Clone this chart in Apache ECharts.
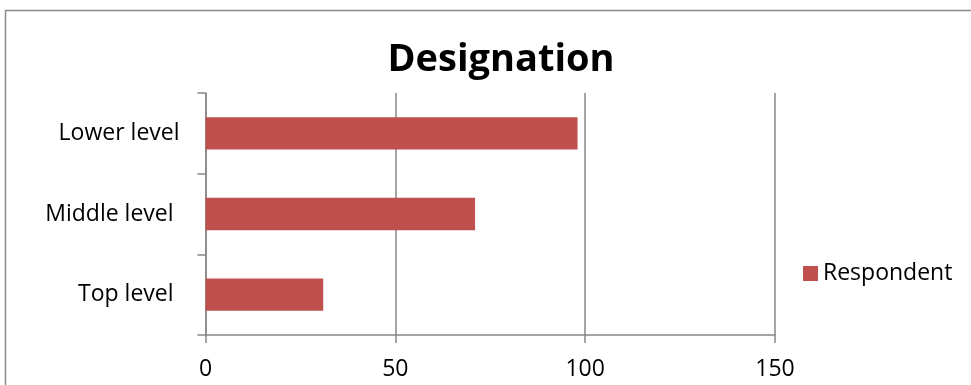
<!DOCTYPE html>
<html>
<head>
<meta charset="utf-8">
<script src="https://cdn.jsdelivr.net/npm/echarts@6/dist/echarts.min.js"></script>
<style>
  html, body { margin: 0; padding: 0; background: #fff; }
  #chart { width: 971px; height: 385px; }
</style>
</head>
<body>
<div id="chart"></div>
<script>
// Designation breakdown of respondents
const categories = ['Top level ', 'Middle level ', 'Lower level'];
const respondentValues = [31, 71, 98];
const valueTicks = [0, 50, 100, 150];
const seriesName = 'Respondent';

const chart = echarts.init(document.getElementById('chart'));
const font = 'Open Sans, Liberation Sans, sans-serif';
const gridColor = '#878787';

chart.setOption({
  animation: false,
  backgroundColor: '#fff',
  title: {
    text: 'Designation',
    left: 496,
    textAlign: 'center',
    top: 36,
    textStyle: { fontFamily: font, fontWeight: 'bold', fontSize: 38, color: '#000' }
  },
  legend: {
    data: [seriesName],
    left: 803,
    top: 262,
    padding: 0,
    itemWidth: 15,
    itemHeight: 15,
    itemGap: 8,
    icon: 'rect',
    textStyle: { fontFamily: font, fontSize: 23, color: '#000' }
  },
  grid: { left: 205.5, right: 971 - 775, top: 93, bottom: 385 - 335, containLabel: false },
  xAxis: {
    type: 'value',
    min: valueTicks[0],
    max: valueTicks[valueTicks.length - 1],
    interval: valueTicks[1] - valueTicks[0],
    axisLine: { show: true, lineStyle: { color: gridColor, width: 1.5 } },
    axisTick: { show: true, length: 8, lineStyle: { color: gridColor, width: 1.5 } },
    axisLabel: { fontFamily: font, fontSize: 23, color: '#000', margin: 23 },
    splitLine: { show: true, lineStyle: { color: gridColor, width: 1.5 } }
  },
  yAxis: {
    type: 'category',
    data: categories,
    axisLine: { show: true, lineStyle: { color: gridColor, width: 1.5 } },
    axisTick: { show: true, length: 8, lineStyle: { color: gridColor, width: 1.5 } },
    axisLabel: { fontFamily: font, fontSize: 23, color: '#000', margin: 26 },
    splitLine: { show: false }
  },
  series: [{
    name: seriesName,
    type: 'bar',
    data: respondentValues,
    barWidth: '40%',
    itemStyle: { color: '#C0504D' }
  }],
  graphic: [{
    type: 'rect',
    shape: { x: 5.5, y: 10.5, width: 1000, height: 400 },
    style: { fill: 'none', stroke: '#8a8a8a', lineWidth: 1.5 },
    z: 100
  }]
});
</script>
</body>
</html>
